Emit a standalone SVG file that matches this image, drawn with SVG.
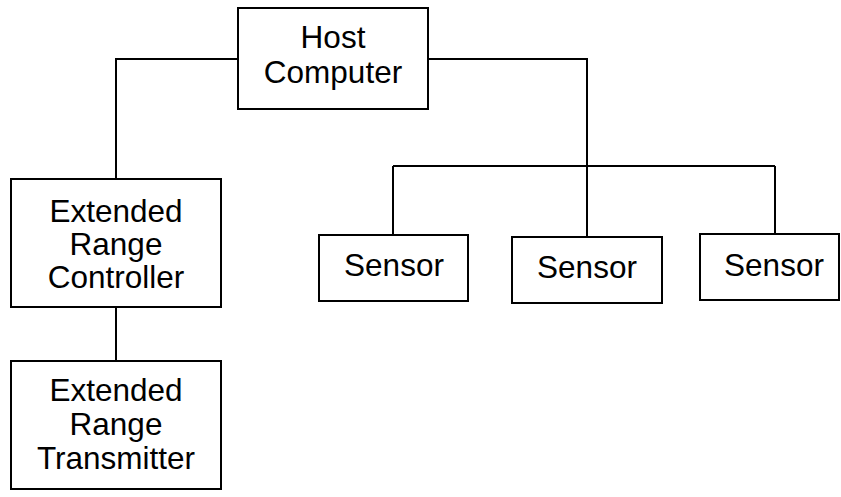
<svg xmlns="http://www.w3.org/2000/svg" width="841" height="497" viewBox="0 0 841 497">
  <style>
    .box { fill: #ffffff; stroke: #000000; stroke-width: 2; }
    .wire { fill: none; stroke: #000000; stroke-width: 2; }
    .label { font-family: "Liberation Sans", Arial, sans-serif; font-size: 31.5px; fill: #000000; text-anchor: middle; }
  </style>
  <rect width="841" height="497" fill="#ffffff"/>

  <!-- wiring between units -->
  <g id="connectors">
    <path class="wire" d="M238,59 H116 V179"/>
    <path class="wire" d="M116,307 V361"/>
    <path class="wire" d="M428,59 H587 V237"/>
    <path class="wire" d="M393,166 H775"/>
    <path class="wire" d="M393,166 V235"/>
    <path class="wire" d="M775,166 V234"/>
  </g>

  <g id="host">
    <rect class="box" x="238" y="8" width="190" height="101"/>
    <text class="label" x="333" y="48">Host</text>
    <text class="label" x="333" y="83">Computer</text>
  </g>

  <g id="controller">
    <rect class="box" x="11" y="179" width="210" height="128"/>
    <text class="label" x="116" y="222">Extended</text>
    <text class="label" x="116" y="255">Range</text>
    <text class="label" x="116" y="288">Controller</text>
  </g>

  <g id="transmitter">
    <rect class="box" x="11" y="361" width="210" height="128"/>
    <text class="label" x="116" y="401">Extended</text>
    <text class="label" x="116" y="435">Range</text>
    <text class="label" x="116" y="469">Transmitter</text>
  </g>

  <g id="sensor1">
    <rect class="box" x="319" y="235" width="149" height="66"/>
    <text class="label" x="394" y="276">Sensor</text>
  </g>

  <g id="sensor2">
    <rect class="box" x="512" y="237" width="150" height="66"/>
    <text class="label" x="587" y="278">Sensor</text>
  </g>

  <g id="sensor3">
    <rect class="box" x="700" y="234" width="139" height="66"/>
    <text class="label" x="774" y="276">Sensor</text>
  </g>
</svg>
